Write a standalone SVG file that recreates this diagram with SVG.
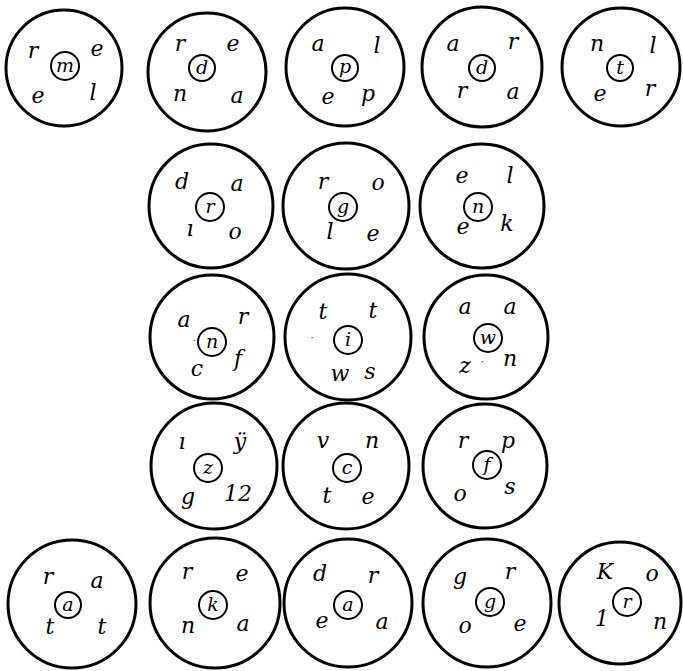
<svg xmlns="http://www.w3.org/2000/svg" width="683" height="671" viewBox="0 0 683 671">
<style>
.o{fill:none;stroke:#000;stroke-width:3}
.i{fill:none;stroke:#000;stroke-width:2}
text{font-family:"DejaVu Serif","Liberation Serif",serif;font-style:italic;font-size:22px;text-anchor:middle;fill:#000}
text.c{font-size:19px}
text.d{font-size:10px;font-style:normal}
</style>
<rect width="683" height="671" fill="#fff"/>
<g id="n1"><circle class="o" cx="64" cy="68" r="58"/><circle class="i" cx="65" cy="66" r="14"/><text class="c" x="65" y="72">m</text>
<text x="33" y="58">r</text><text x="97" y="56">e</text><text x="38" y="103">e</text><text x="93" y="100">l</text></g>
<g id="n2"><circle class="o" cx="207" cy="72" r="59"/><circle class="i" cx="202" cy="68" r="13"/><text class="c" x="202" y="74">d</text>
<text x="180" y="51">r</text><text x="233" y="51">e</text><text x="180" y="101">n</text><text x="237" y="103">a</text></g>
<g id="n3"><circle class="o" cx="345" cy="67" r="59"/><circle class="i" cx="345" cy="68" r="13"/><text class="c" x="345" y="73">p</text>
<text x="318" y="51">a</text><text x="377" y="53">l</text><text x="328" y="104">e</text><text x="368" y="101">p</text></g>
<g id="n4"><circle class="o" cx="482" cy="67" r="60"/><circle class="i" cx="482" cy="68" r="13"/><text class="c" x="482" y="74">d</text>
<text x="453" y="51">a</text><text x="513" y="49">r</text><text x="462" y="98">r</text><text x="513" y="99">a</text></g>
<g id="n5"><circle class="o" cx="621" cy="67" r="59"/><circle class="i" cx="620" cy="68" r="13"/><text class="c" x="620" y="74">t</text>
<text x="597" y="51">n</text><text x="653" y="53">l</text><text x="600" y="101">e</text><text x="650" y="96">r</text></g>
<g id="n6"><circle class="o" cx="211" cy="206" r="62"/><circle class="i" cx="210" cy="207" r="14"/><text class="c" x="210" y="213">r</text>
<text x="182" y="189">d</text><text x="237" y="191">a</text><text x="190" y="236">ı</text><text x="235" y="239">o</text></g>
<g id="n7"><circle class="o" cx="346" cy="206" r="63"/><circle class="i" cx="343" cy="207" r="14"/><text class="c" x="343" y="213">g</text>
<text x="323" y="189">r</text><text x="378" y="190">o</text><text x="330" y="239">l</text><text x="373" y="241">e</text></g>
<g id="n8"><circle class="o" cx="482" cy="206" r="62"/><circle class="i" cx="478" cy="207" r="14"/><text class="c" x="478" y="213">n</text>
<text x="462" y="183">e</text><text x="510" y="183">l</text><text x="463" y="234">e</text><text x="507" y="231">k</text></g>
<g id="n9"><circle class="o" cx="212" cy="337" r="62"/><circle class="i" cx="212" cy="342" r="14"/><text class="c" x="212" y="348">n</text>
<text x="184" y="327">a</text><text x="243" y="324">r</text><text x="197" y="376">c</text><text x="238" y="366">f</text><text class="d" x="194" y="344">·</text></g>
<g id="n10"><circle class="o" cx="348" cy="337" r="63"/><circle class="i" cx="348" cy="340" r="14"/><text class="c" x="348" y="346">i</text>
<text x="323" y="319">t</text><text x="373" y="318">t</text><text x="340" y="381">w</text><text x="370" y="379">s</text><text class="d" x="312" y="341">·</text></g>
<g id="n11"><circle class="o" cx="486" cy="337" r="62"/><circle class="i" cx="488" cy="338" r="14"/><text class="c" x="488" y="344">w</text>
<text x="465" y="314">a</text><text x="510" y="314">a</text><text x="465" y="373">z</text><text x="510" y="366">n</text><text class="d" x="482" y="365">·</text></g>
<g id="n12"><circle class="o" cx="214" cy="466" r="63"/><circle class="i" cx="208" cy="468" r="14"/><text class="c" x="208" y="474">z</text>
<text x="182" y="449">ı</text><text x="240" y="449">ÿ</text><text x="188" y="504">g</text><text x="238" y="501" font-size="15">12</text></g>
<g id="n13"><circle class="o" cx="346" cy="466" r="63"/><circle class="i" cx="347" cy="468" r="14"/><text class="c" x="347" y="474">c</text>
<text x="323" y="448">v</text><text x="372" y="448">n</text><text x="327" y="503">t</text><text x="368" y="504">e</text></g>
<g id="n14"><circle class="o" cx="485" cy="466" r="62"/><circle class="i" cx="487" cy="465" r="14"/><text class="c" x="487" y="471">f</text>
<text x="463" y="448">r</text><text x="508" y="448">p</text><text x="460" y="501">o</text><text x="510" y="494">s</text></g>
<g id="n15"><circle class="o" cx="72" cy="604" r="64"/><circle class="i" cx="68" cy="605" r="13"/><text class="c" x="68" y="611">a</text>
<text x="48" y="584">r</text><text x="97" y="588">a</text><text x="50" y="634">t</text><text x="102" y="634">t</text></g>
<g id="n16"><circle class="o" cx="215" cy="603" r="65"/><circle class="i" cx="213" cy="605" r="14"/><text class="c" x="213" y="611">k</text>
<text x="187" y="579">r</text><text x="242" y="581">e</text><text x="188" y="633">n</text><text x="243" y="631">a</text></g>
<g id="n17"><circle class="o" cx="348" cy="603" r="64"/><circle class="i" cx="348" cy="605" r="14"/><text class="c" x="348" y="611">a</text>
<text x="320" y="581">d</text><text x="373" y="583">r</text><text x="322" y="628">e</text><text x="382" y="629">a</text></g>
<g id="n18"><circle class="o" cx="487" cy="603" r="64"/><circle class="i" cx="490" cy="602" r="14"/><text class="c" x="490" y="608">g</text>
<text x="460" y="584">g</text><text x="510" y="579">r</text><text x="465" y="633">o</text><text x="520" y="631">e</text></g>
<g id="n19"><circle class="o" cx="620" cy="603" r="61"/><circle class="i" cx="627" cy="602" r="14"/><text class="c" x="627" y="608">r</text>
<text x="605" y="579">K</text><text x="652" y="581">o</text><text x="602" y="626">1</text><text x="660" y="629">n</text></g>
</svg>
